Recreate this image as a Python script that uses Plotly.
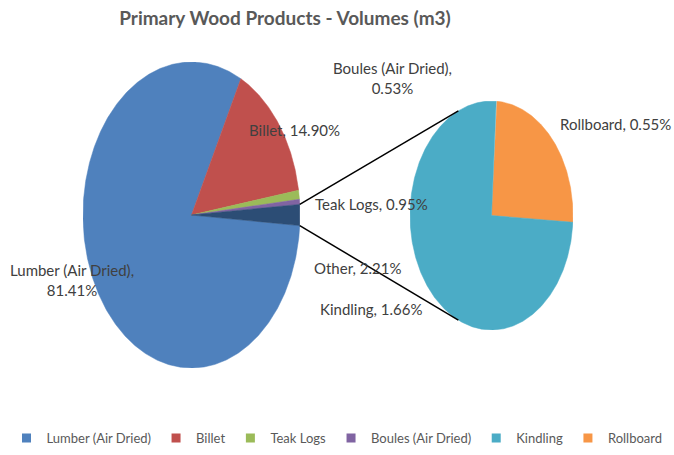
import numpy as np
import plotly.graph_objects as go

# ---- data ----
main_labels = ["Lumber (Air Dried)", "Billet", "Teak Logs", "Boules (Air Dried)"]
main_values = [81.41, 14.90, 0.95, 0.53]
sec_labels = ["Kindling", "Rollboard"]
sec_values = [1.66, 0.55]
other_label = "Other"

colors = {
    "Lumber (Air Dried)": "#4F81BD",
    "Billet": "#C0504D",
    "Teak Logs": "#9BBB59",
    "Boules (Air Dried)": "#8064A2",
    "Kindling": "#4BACC6",
    "Rollboard": "#F79646",
    "Other": "#2C4D75",
}

W, H = 674, 455
FONT = "Lato, sans-serif"
TXT = "#404040"

# axis domains (paper fractions)
main_dom_x = [83 / W, 300 / W]
main_dom_y = [1 - 368 / H, 1 - 62 / H]
sec_dom_x = [410 / W, 573 / W]
sec_dom_y = [1 - 330 / H, 1 - 101 / H]


def wedge(a0, a1):
    n = max(int(abs(a1 - a0) / 0.5) + 2, 3)
    t = np.radians(np.linspace(a0, a1, n))
    xs = np.concatenate([[0], np.cos(t), [0]])
    ys = np.concatenate([[0], np.sin(t), [0]])
    return xs, ys


fig = go.Figure()

# main pie: Other slice centred at 3 o'clock, slices run clockwise
other_val = sum(sec_values)
total = sum(main_values) + other_val
other_span = other_val / total * 360
ang = other_span / 2
main_slices = []
for lab, v in zip(reversed(main_labels), reversed(main_values)):
    span = v / total * 360
    main_slices.append((lab, ang, ang + span))
    ang += span
main_slices.reverse()

for lab, a0, a1 in main_slices:
    xs, ys = wedge(a0, a1)
    fig.add_trace(go.Scatter(x=xs, y=ys, fill="toself", mode="lines",
                             fillcolor=colors[lab], line=dict(color=colors[lab], width=0.5),
                             name=lab, legendgroup=lab, showlegend=False,
                             xaxis="x", yaxis="y", hoverinfo="name"))
xs, ys = wedge(-other_span / 2, other_span / 2)
fig.add_trace(go.Scatter(x=xs, y=ys, fill="toself", mode="lines",
                         fillcolor=colors["Other"], line=dict(color=colors["Other"], width=0.5),
                         name=other_label, showlegend=False, xaxis="x", yaxis="y",
                         hoverinfo="name"))

# secondary pie: Rollboard from near top clockwise, then Kindling
start = 86.2
a = start
sec_slices = []
for lab, v in zip(reversed(sec_labels), reversed(sec_values)):
    span = v / other_val * 360
    sec_slices.append((lab, a - span, a))
    a -= span
for lab, a0, a1 in sec_slices:
    xs, ys = wedge(a0, a1)
    fig.add_trace(go.Scatter(x=xs, y=ys, fill="toself", mode="lines",
                             fillcolor=colors[lab], line=dict(color=colors[lab], width=0.5),
                             name=lab, legendgroup=lab, showlegend=False,
                             xaxis="x2", yaxis="y2", hoverinfo="name"))

# legend entries (square swatches)
for lab in main_labels + sec_labels:
    fig.add_trace(go.Scatter(x=[None], y=[None], mode="markers",
                             marker=dict(symbol="square", size=9, color=colors[lab]),
                             name=lab, legendgroup=lab, showlegend=True,
                             xaxis="x", yaxis="y"))


def to_paper(dx, dy, ux, uy):
    px = dx[0] + (ux + 1) / 2 * (dx[1] - dx[0])
    py = dy[0] + (uy + 1) / 2 * (dy[1] - dy[0])
    return px, py


# connector lines
for sgn in (1, -1):
    a_main = np.radians(sgn * other_span / 2)
    a_sec = np.radians(sgn * 114)
    x0, y0 = to_paper(main_dom_x, main_dom_y, np.cos(a_main), np.sin(a_main))
    x1, y1 = to_paper(sec_dom_x, sec_dom_y, np.cos(a_sec), np.sin(a_sec))
    fig.add_shape(type="line", xref="paper", yref="paper", x0=x0, y0=y0, x1=x1, y1=y1,
                  line=dict(color="black", width=1.5))

# data labels
pct = dict(zip(main_labels + sec_labels + [other_label], main_values + sec_values + [other_val]))
label_pos = {
    "Billet": (294, 130, "Billet, {:.2f}%"),
    "Boules (Air Dried)": (392, 78, "Boules (Air Dried),<br>{:.2f}%"),
    "Rollboard": (615, 124, "Rollboard, {:.2f}%"),
    "Teak Logs": (371, 204, "Teak Logs, {:.2f}%"),
    "Lumber (Air Dried)": (72, 280, "Lumber (Air Dried),<br>{:.2f}%"),
    "Other": (357, 268, "Other, {:.2f}%"),
    "Kindling": (371, 309, "Kindling, {:.2f}%"),
}
for lab, (px, py, fmt) in label_pos.items():
    fig.add_annotation(x=px / W, y=1 - py / H, xref="paper", yref="paper",
                       text=fmt.format(pct[lab]), showarrow=False,
                       font=dict(family=FONT, size=15, color=TXT),
                       xanchor="center", yanchor="middle", align="center")

ax = dict(visible=False, range=[-1.0, 1.0], fixedrange=True)
fig.update_layout(
    width=W, height=H,
    margin=dict(l=0, r=0, t=0, b=0),
    paper_bgcolor="white", plot_bgcolor="white",
    title=dict(text="<b>Primary Wood Products - Volumes (m3)</b>", x=285 / W, xanchor="center",
               y=1 - 18 / H, yanchor="middle",
               font=dict(family=FONT, size=19, color="#595959")),
    xaxis=dict(ax, domain=main_dom_x),
    yaxis=dict(ax, domain=main_dom_y),
    xaxis2=dict(ax, domain=sec_dom_x),
    yaxis2=dict(ax, domain=sec_dom_y),
    showlegend=True,
    legend=dict(orientation="h", x=0.5, xanchor="center", y=(H - 438) / H, yanchor="middle",
                font=dict(family=FONT, size=13, color="#595959"), itemwidth=30,
                traceorder="normal", borderwidth=0, tracegroupgap=0),
)

fig.write_html("out.html", config={"displayModeBar": False},
               post_script="document.body.style.margin='0';")
